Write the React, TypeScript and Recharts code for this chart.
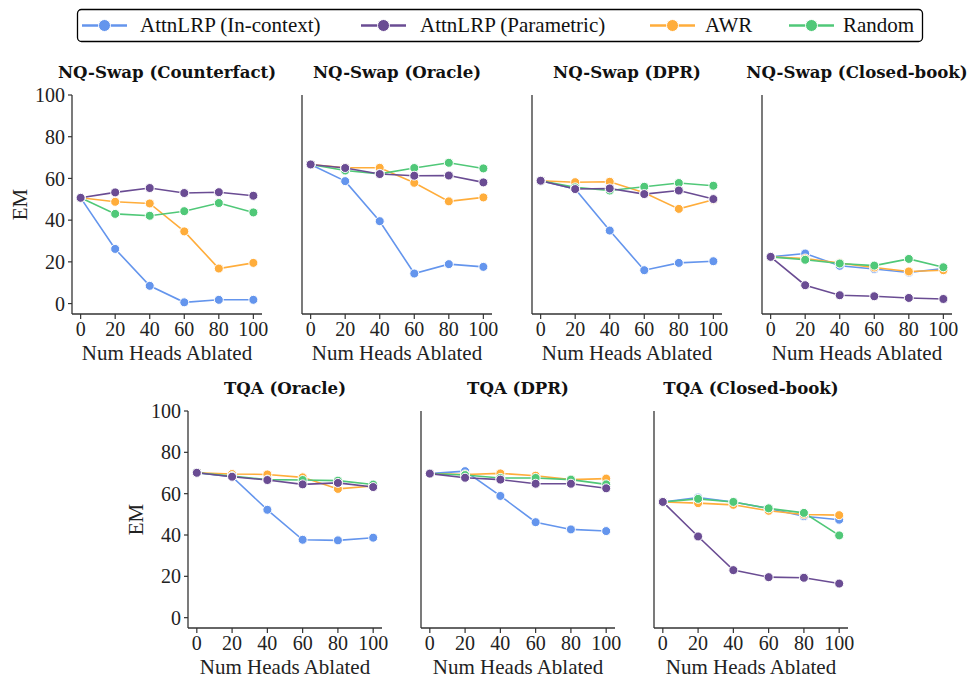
import React from 'react'
import { LineChart, Line, XAxis, YAxis } from 'recharts'

// x positions (number of heads ablated)
const HEADS = [0, 20, 40, 60, 80, 100]
const EM_TICKS = [0, 20, 40, 60, 80, 100]

const SERIES = [
    { key: 'inContext', name: 'AttnLRP (In-context)', color: '#6495ED' },
    { key: 'parametric', name: 'AttnLRP (Parametric)', color: '#6A4C93' },
    { key: 'awr', name: 'AWR', color: '#FFAD3B' },
    { key: 'random', name: 'Random', color: '#50C878' },
]
// parametric line sits on top in the original
const DRAW_ORDER = ['inContext', 'awr', 'random', 'parametric']

// EM scores, one array per method
const nqCounterfact = {
    inContext: [50.7, 26.2, 8.5, 0.6, 1.8, 1.8],
    parametric: [50.7, 53.3, 55.4, 53.0, 53.4, 51.7],
    awr: [50.7, 48.8, 48.0, 34.6, 16.8, 19.5],
    random: [50.7, 43.0, 42.1, 44.3, 48.2, 43.7],
}
const nqOracle = {
    inContext: [66.7, 58.7, 39.5, 14.4, 18.9, 17.6],
    parametric: [66.7, 65.0, 62.1, 61.3, 61.4, 58.1],
    awr: [66.7, 65.1, 65.1, 57.9, 49.0, 50.9],
    random: [66.7, 63.8, 62.2, 65.0, 67.5, 64.8],
}
const nqDpr = {
    inContext: [58.9, 54.9, 35.0, 16.0, 19.5, 20.3],
    parametric: [58.9, 54.9, 55.2, 52.5, 54.2, 50.1],
    awr: [58.9, 58.2, 58.4, 53.1, 45.4, 49.8],
    random: [58.9, 55.7, 54.2, 56.0, 57.8, 56.5],
}
const nqClosedBook = {
    inContext: [22.4, 24.0, 18.1, 16.6, 14.9, 16.8],
    parametric: [22.4, 8.8, 4.0, 3.5, 2.7, 2.2],
    awr: [22.4, 21.6, 19.4, 17.3, 15.4, 16.0],
    random: [22.4, 21.0, 19.2, 18.2, 21.4, 17.4],
}
const tqaOracle = {
    inContext: [70.1, 68.2, 52.2, 37.7, 37.4, 38.7],
    parametric: [70.1, 68.2, 66.6, 64.5, 65.2, 63.2],
    awr: [70.1, 69.5, 69.3, 67.9, 62.3, 63.7],
    random: [70.1, 68.5, 66.8, 66.6, 66.3, 64.4],
}
const tqaDpr = {
    inContext: [69.7, 70.9, 58.9, 46.2, 42.7, 41.9],
    parametric: [69.7, 67.7, 66.8, 64.8, 64.8, 62.6],
    awr: [69.7, 69.3, 69.8, 68.7, 66.8, 67.3],
    random: [69.7, 69.0, 67.6, 67.6, 66.8, 64.5],
}
const tqaClosedBook = {
    inContext: [56.0, 58.1, 56.0, 52.8, 49.1, 47.4],
    parametric: [56.0, 39.3, 23.0, 19.6, 19.3, 16.5],
    awr: [56.0, 55.4, 54.6, 51.7, 49.9, 49.6],
    random: [56.0, 57.5, 56.0, 52.9, 50.7, 39.8],
}

const SERIF = 'Liberation Serif'
const TITLE_FONT = 'DejaVu Serif'
const AXIS = '#333'

// plot-area boxes (left, top, width, height) for each subplot
const PANELS = [
    { title: 'NQ-Swap (Counterfact)', values: nqCounterfact, x: 72, y: 95, w: 190, h: 219, showY: true },
    { title: 'NQ-Swap (Oracle)', values: nqOracle, x: 302, y: 95, w: 190, h: 219, showY: false },
    { title: 'NQ-Swap (DPR)', values: nqDpr, x: 532, y: 95, w: 190, h: 219, showY: false },
    { title: 'NQ-Swap (Closed-book)', values: nqClosedBook, x: 762, y: 95, w: 190, h: 219, showY: false },
    { title: 'TQA (Oracle)', values: tqaOracle, x: 188, y: 411, w: 194, h: 217, showY: true },
    { title: 'TQA (DPR)', values: tqaDpr, x: 421, y: 411, w: 194, h: 217, showY: false },
    { title: 'TQA (Closed-book)', values: tqaClosedBook, x: 654, y: 411, w: 194, h: 217, showY: false },
]

// legend entry layout: marker start x and text start x
const LEGEND_X = [[82, 140], [361, 420], [650, 705], [789, 843]]

const Y_W = 64
const TOP = 40

function Panel({ p }: { p: any }) {
    const data = HEADS.map((h, i) => {
        const row: any = { heads: h }
        SERIES.forEach(s => { row[s.key] = p.values[s.key][i] })
        return row
    })
    const tickStyle = { fontSize: 20, fill: '#222', style: { fontFamily: SERIF } }
    return (
        <div style={{ position: 'absolute', left: p.x - Y_W, top: p.y - TOP }}>
            <LineChart width={Y_W + p.w + 12} height={TOP + p.h + 50} data={data}
                margin={{ top: TOP, right: 12, bottom: 4, left: 0 }} style={{ fontFamily: SERIF }}>
                <XAxis dataKey="heads" type="number" domain={[-5, 105]} ticks={HEADS}
                    tick={tickStyle} tickSize={5} tickMargin={3} height={46}
                    axisLine={{ stroke: AXIS, strokeWidth: 1.3 }} tickLine={{ stroke: AXIS, strokeWidth: 1.2 }}
                    label={{ value: 'Num Heads Ablated', position: 'insideBottom', offset: 0, fontSize: 21, fill: '#222', style: { fontFamily: SERIF } }} />
                <YAxis type="number" domain={[-5, 100]} ticks={EM_TICKS} width={Y_W}
                    tick={p.showY ? tickStyle : false} tickSize={4} tickMargin={3}
                    axisLine={{ stroke: AXIS, strokeWidth: 1.3 }} tickLine={{ stroke: AXIS, strokeWidth: 1.2 }}
                    label={p.showY ? { value: 'EM', angle: -90, position: 'insideLeft', offset: 12, fontSize: 21, fill: '#222', textAnchor: 'middle', style: { fontFamily: SERIF } } : undefined} />
                {DRAW_ORDER.map(k => {
                    const s = SERIES.find(d => d.key === k)!
                    return (
                        <Line key={s.key} dataKey={s.key} type="linear" stroke={s.color} strokeWidth={1.6}
                            dot={{ r: 4.5, fill: s.color, stroke: '#fff', strokeWidth: 1 }} activeDot={false}
                            isAnimationActive={false} />
                    )
                })}
            </LineChart>
        </div>
    )
}

export default function App() {
    return (
        <div style={{ position: 'absolute', left: 0, top: 0, width: 971, height: 679, background: '#fff', fontFamily: SERIF }}>
            {PANELS.map(p => <Panel key={p.title} p={p} />)}
            <svg width={971} height={679} style={{ position: 'absolute', left: 0, top: 0, pointerEvents: 'none' }}>
                {PANELS.map(p => (
                    <text key={p.title} x={p.x + p.w / 2} y={p.y - 17} textAnchor="middle"
                        style={{ fontFamily: TITLE_FONT, fontWeight: 'bold', fontSize: 16.6 }} fill="#111">{p.title}</text>
                ))}
                <rect x={77.5} y={9.5} width={845} height={32} rx={4} fill="#fff" stroke="#000" strokeWidth={1.3} />
                {SERIES.map((s, i) => {
                    const [mx, tx] = LEGEND_X[i]
                    return (
                        <g key={s.key}>
                            <line x1={mx} x2={mx + 45} y1={25.5} y2={25.5} stroke={s.color} strokeWidth={2.5} />
                            <circle cx={mx + 22.5} cy={25.5} r={6} fill={s.color} stroke="#fff" strokeWidth={1} />
                            <text x={tx} y={32} style={{ fontFamily: SERIF, fontSize: 21 }} fill="#111">{s.name}</text>
                        </g>
                    )
                })}
            </svg>
        </div>
    )
}
